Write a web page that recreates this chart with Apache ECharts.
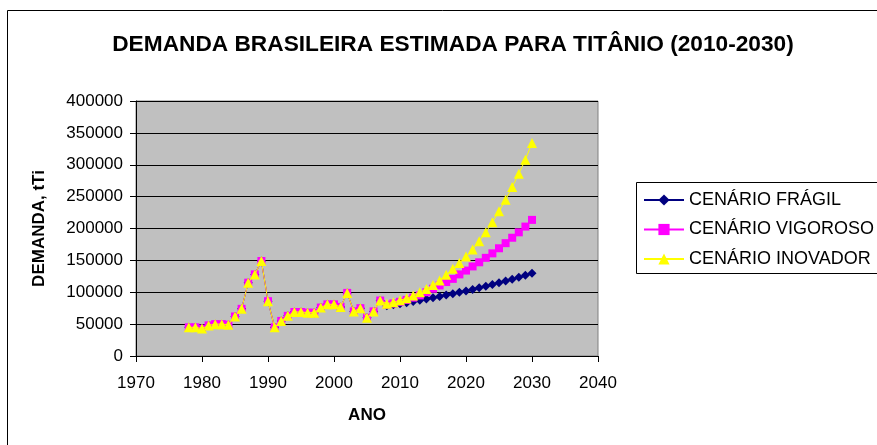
<!DOCTYPE html>
<html>
<head>
<meta charset="utf-8">
<script src="https://cdn.jsdelivr.net/npm/echarts@6/dist/echarts.min.js"></script>
<style>
html,body{margin:0;padding:0;background:#fff;}
#c{width:877px;height:445px;}
</style>
</head>
<body>
<div id="c"></div>
<script>
// ---- DATA ----
var title = 'DEMANDA BRASILEIRA ESTIMADA PARA TITÂNIO (2010-2030)';
var xAxisName = 'ANO';
var yAxisName = 'DEMANDA, tTi';
var seriesNames = ['CENÁRIO FRÁGIL', 'CENÁRIO VIGOROSO', 'CENÁRIO INOVADOR'];

var histYears = [1978,1979,1980,1981,1982,1983,1984,1985,1986,1987,1988,1989,1990,1991,1992,1993,1994,1995,1996,1997,1998,1999,2000,2001,2002,2003,2004,2005,2006,2007];
var histValues = [45000,45000,43000,48000,50000,50000,49000,62000,74000,115000,128000,149000,86000,45000,55000,63000,69000,69000,68000,68000,76000,81000,81000,77000,99000,70000,75000,60000,70000,87000];

var projYears = [2008,2009,2010,2011,2012,2013,2014,2015,2016,2017,2018,2019,2020,2021,2022,2023,2024,2025,2026,2027,2028,2029,2030];
var fragil   = [79000,80500,82000,83500,85500,87500,89500,91500,93500,95500,97500,100000,102000,104500,107000,109500,112000,115000,117500,120500,123500,126500,130000];
var vigoroso = [80500,82500,85000,88000,91500,95000,100000,105500,110700,116000,121000,128000,134000,140500,147000,154000,161000,169000,177000,185500,194000,203000,213500];
var inovador = [82000,84500,87500,90500,95000,100000,105000,111500,118500,127500,137000,146000,156000,167000,180000,194000,210000,227000,245000,265000,286000,308000,334000];

var xMin = 1970, xMax = 2040, xStep = 10;
var yMin = 0, yMax = 400000, yStep = 50000;

// ---- BUILD ----
function pairs(proj) {
  var out = [];
  for (var i = 0; i < histYears.length; i++) out.push([histYears[i], histValues[i]]);
  for (var j = 0; j < projYears.length; j++) out.push([projYears[j], proj[j]]);
  return out;
}
function plain(v) { return String(v); }

var font = 'Liberation Sans, Arial, sans-serif';
var chart = echarts.init(document.getElementById('c'));
chart.setOption({
  animation: false,
  backgroundColor: '#ffffff',
  textStyle: {fontFamily: font},
  graphic: [
    {type: 'rect', shape: {x: 7.5, y: 10.5, width: 900, height: 460},
     style: {fill: 'none', stroke: '#000', lineWidth: 1}, z: 0},
    {type: 'rect', shape: {x: 636.5, y: 182.5, width: 300, height: 91},
     style: {fill: '#fff', stroke: '#000', lineWidth: 1}, z: 1}
  ],
  title: {
    text: title, left: 448, top: 28, textAlign: 'center',
    textStyle: {fontFamily: font, fontSize: 22.7, fontWeight: 'bold', color: '#000'}
  },
  legend: {
    orient: 'vertical', left: 643, top: 191, padding: 0,
    itemWidth: 40, itemHeight: 14, itemGap: 11.5,
    textStyle: {fontFamily: font, fontSize: 18, lineHeight: 18, color: '#000'},
    data: seriesNames, z: 5
  },
  grid: {left: 136, top: 101, width: 462, height: 255, show: true,
         backgroundColor: '#c0c0c0', borderColor: '#808080', borderWidth: 1},
  xAxis: {
    type: 'value', min: xMin, max: xMax, interval: xStep,
    name: xAxisName, nameLocation: 'middle', nameGap: 51,
    nameTextStyle: {fontFamily: font, fontSize: 17, fontWeight: 'bold', color: '#000'},
    axisLine: {show: true, onZero: false, lineStyle: {color: '#000', width: 1}},
    axisTick: {show: true, length: 6, inside: false, lineStyle: {color: '#000'}},
    axisLabel: {fontFamily: font, fontSize: 17, color: '#000', margin: 19, formatter: plain},
    splitLine: {show: false}
  },
  yAxis: {
    type: 'value', min: yMin, max: yMax, interval: yStep,
    name: yAxisName, nameLocation: 'middle', nameGap: 88, nameRotate: 90,
    nameTextStyle: {fontFamily: font, fontSize: 17, fontWeight: 'bold', color: '#000'},
    axisLine: {show: true, lineStyle: {color: '#000', width: 1}},
    axisTick: {show: true, length: 6, inside: false, lineStyle: {color: '#000'}},
    axisLabel: {fontFamily: font, fontSize: 17, color: '#000', margin: 13, formatter: plain},
    splitLine: {show: true, lineStyle: {color: '#000', width: 1}}
  },
  series: [
    {name: seriesNames[0], type: 'line', data: pairs(fragil),
     symbol: 'diamond', symbolSize: 9, showAllSymbol: true,
     lineStyle: {color: '#000080', width: 1},
     itemStyle: {color: '#000080'}, z: 2},
    {name: seriesNames[1], type: 'line', data: pairs(vigoroso),
     symbol: 'rect', symbolSize: 8, showAllSymbol: true,
     lineStyle: {color: '#ff00ff', width: 1},
     itemStyle: {color: '#ff00ff'}, z: 3},
    {name: seriesNames[2], type: 'line', data: pairs(inovador),
     symbol: 'triangle', symbolSize: 10, showAllSymbol: true,
     lineStyle: {color: '#ffff00', width: 1},
     itemStyle: {color: '#ffff00'}, z: 4}
  ]
});
</script>
</body>
</html>
